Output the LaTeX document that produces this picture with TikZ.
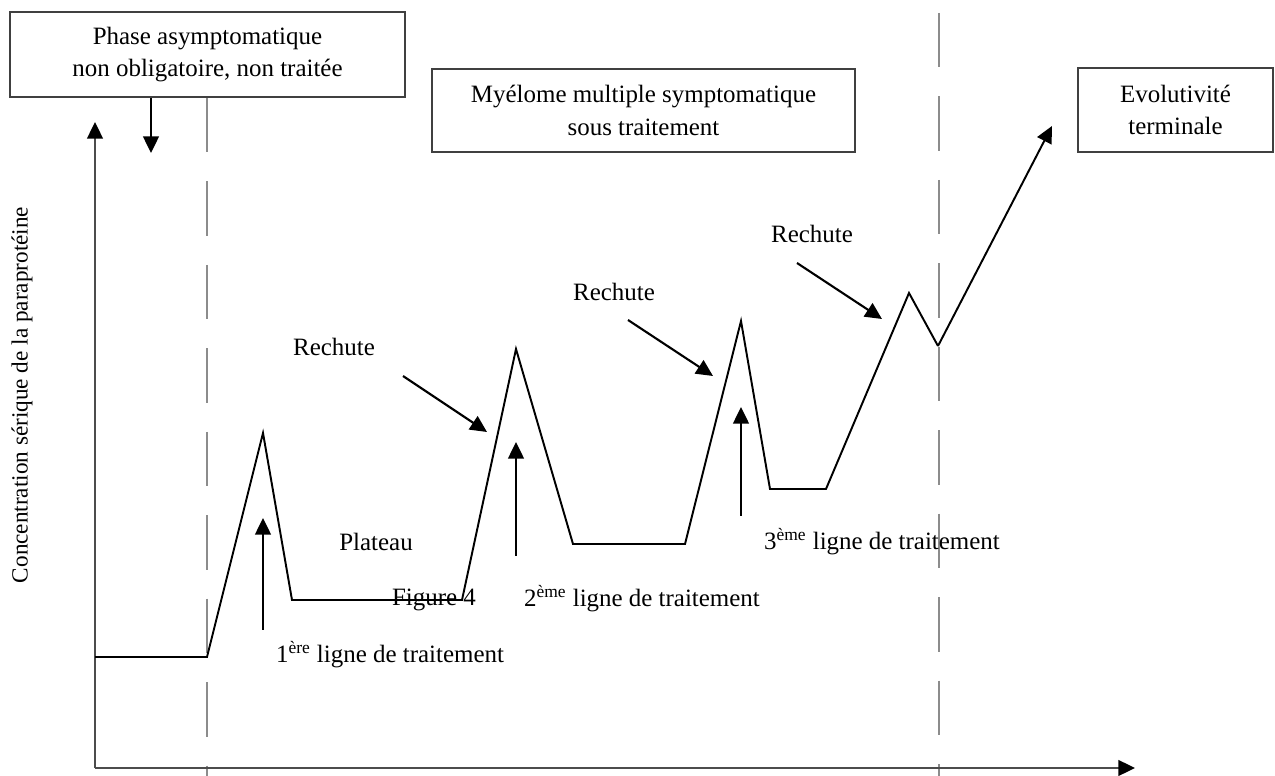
\documentclass[tikz,border=0pt]{standalone}
\usepackage{fontspec}
\setmainfont{Liberation Serif}
\usetikzlibrary{arrows.meta}
\begin{document}
\begin{tikzpicture}[x=0.02cm,y=-0.02cm,
  font=\fontsize{14.2}{17.5}\selectfont,
  curve/.style={line width=1.1pt, line join=miter},
  arr/.style={line width=1.2pt, -{Triangle[length=9.5pt,width=9pt]}},
  axis/.style={line width=1.1pt, draw=black!70, -{Triangle[length=9.5pt,width=9pt,color=black]}},
  box/.style={draw=black!75, line width=1.1pt, align=center, inner sep=0pt},
  sep/.style={draw=black!45, line width=1.3pt, dash pattern=on 31pt off 16.5pt},
  lbl/.style={inner sep=0pt, anchor=base}]
\useasboundingbox (0,0) rectangle (1275,776);

% boxes
\node[box, minimum width=7.9cm, minimum height=1.7cm, font=\fontsize{14.2}{18.5}\selectfont] (b1) at (207.5,54.5) {Phase asymptomatique\\non obligatoire, non traitée};
\node[box, minimum width=8.46cm, minimum height=1.66cm, font=\fontsize{14.2}{18.5}\selectfont] (b2) at (643.5,110.5) {Myélome multiple symptomatique\\sous traitement};
\node[box, minimum width=3.9cm, minimum height=1.68cm, font=\fontsize{14.2}{18.5}\selectfont] (b3) at (1175.5,110) {Evolutivité\\terminale};

% separators
\coordinate (s1b) at (207,776);
\coordinate (s2t) at (939,13);
\coordinate (s2b) at (939,776);
\draw[sep] (b1.south -| s1b) -- (s1b);
\draw[sep] (s2t) -- (s2b);

% axes
\coordinate (O) at (95,768);
\coordinate (ytip) at (95,122);
\coordinate (xtip) at (1135,768);
\draw[axis] (O) -- (ytip);
\draw[axis] (O) -- (xtip);
\node[rotate=90, inner sep=0pt, font=\fontsize{13.2}{16}\selectfont] (ylab) at (22,395) {Concentration sérique de la paraprotéine};

% arrow from box 1
\coordinate (a0) at (151,153);
\draw[arr] (b1.south -| a0) -- (a0);

% curve
\coordinate (p0) at (95,657);
\coordinate (p1) at (207,657);
\coordinate (p2) at (263,433);
\coordinate (p3) at (292,600);
\coordinate (p4) at (462,600);
\coordinate (p5) at (516,349);
\coordinate (p6) at (573,544);
\coordinate (p7) at (685,544);
\coordinate (p8) at (741,321);
\coordinate (p9) at (770,489);
\coordinate (p10) at (826,489);
\coordinate (p11) at (909,293);
\coordinate (p12) at (938,346);
\coordinate (p13) at (1052,126);
\draw[curve] (p0) -- (p1) -- (p2) -- (p3) -- (p4) -- (p5) -- (p6) -- (p7) -- (p8) -- (p9) -- (p10) -- (p11) -- (p12);
\draw[curve, -{Triangle[length=9.5pt,width=9pt]}] (p12) -- (p13);

% treatment arrows
\coordinate (t1a) at (263,630); \coordinate (t1b) at (263,518);
\coordinate (t2a) at (516,556); \coordinate (t2b) at (516,442);
\coordinate (t3a) at (741,516); \coordinate (t3b) at (741,407);
\draw[arr] (t1a) -- (t1b);
\draw[arr] (t2a) -- (t2b);
\draw[arr] (t3a) -- (t3b);

% relapse arrows
\coordinate (r1a) at (403,376); \coordinate (r1b) at (487,432);
\coordinate (r2a) at (628,320); \coordinate (r2b) at (713,376);
\coordinate (r3a) at (797,263); \coordinate (r3b) at (882,319);
\draw[arr] (r1a) -- (r1b);
\draw[arr] (r2a) -- (r2b);
\draw[arr] (r3a) -- (r3b);

% labels
\node[lbl] (l1) at (334,356) {Rechute};
\node[lbl] (l2) at (614,301) {Rechute};
\node[lbl] (l3) at (812,243) {Rechute};
\node[lbl] (pl) at (376,551) {Plateau};
\node[lbl] (fig) at (434,606) {Figure 4};
\node[lbl] (tr1) at (390,663) {1\textsuperscript{ère} ligne de traitement};
\node[lbl] (tr2) at (642,607) {2\textsuperscript{ème} ligne de traitement};
\node[lbl] (tr3) at (882,550) {3\textsuperscript{ème} ligne de traitement};
\end{tikzpicture}
\end{document}
